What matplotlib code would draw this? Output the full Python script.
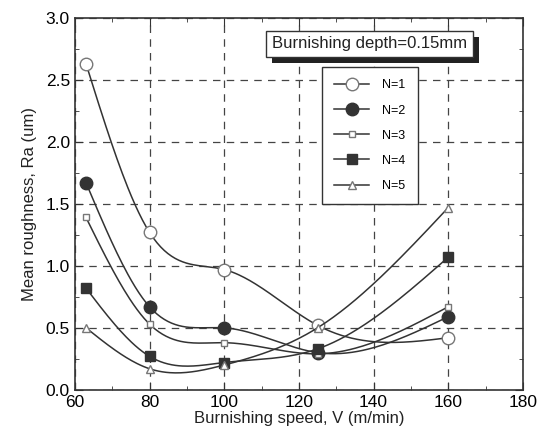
import numpy as np
import matplotlib.pyplot as plt
from matplotlib.patches import Rectangle
from matplotlib.transforms import IdentityTransform

# burnishing speed (m/min)
speed = [63, 80, 100, 125, 160]

# mean roughness Ra (um) for each number of passes
ra_n1 = [2.63, 1.27, 0.97, 0.52, 0.42]
ra_n2 = [1.67, 0.67, 0.50, 0.30, 0.59]
ra_n3 = [1.39, 0.53, 0.38, 0.29, 0.67]
ra_n4 = [0.82, 0.27, 0.22, 0.33, 1.07]
ra_n5 = [0.50, 0.17, 0.20, 0.50, 1.47]

labels = ['N=1', 'N=2', 'N=3', 'N=4', 'N=5']


def smooth(x, y, n=200):
    # natural cubic spline through the points, for the drawn curve only
    x = np.asarray(x, float)
    y = np.asarray(y, float)
    k = len(x)
    h = np.diff(x)
    A = np.zeros((k, k))
    b = np.zeros(k)
    A[0, 0] = A[-1, -1] = 1
    for i in range(1, k - 1):
        A[i, i - 1] = h[i - 1]
        A[i, i] = 2 * (h[i - 1] + h[i])
        A[i, i + 1] = h[i]
        b[i] = 6 * ((y[i + 1] - y[i]) / h[i] - (y[i] - y[i - 1]) / h[i - 1])
    m = np.linalg.solve(A, b)
    xs = np.linspace(x[0], x[-1], n)
    idx = np.clip(np.searchsorted(x, xs) - 1, 0, k - 2)
    x0, x1 = x[idx], x[idx + 1]
    hh = x1 - x0
    t0, t1 = x1 - xs, xs - x0
    ys = (m[idx] * t0 ** 3 + m[idx + 1] * t1 ** 3) / (6 * hh) \
        + (y[idx] / hh - m[idx] * hh / 6) * t0 \
        + (y[idx + 1] / hh - m[idx + 1] * hh / 6) * t1
    return xs, ys


plt.rcParams['font.family'] = ['Liberation Sans', 'DejaVu Sans']

fig = plt.figure(figsize=(5.42, 4.46), dpi=100)
ax = fig.add_axes([0.138, 0.126, 0.827, 0.834])

col = '#333333'
styles = [
    dict(marker='o', ms=9, mfc='white', mec='#777777'),
    dict(marker='o', ms=9, mfc=col, mec=col),
    dict(marker='s', ms=5, mfc='white', mec='#777777'),
    dict(marker='s', ms=7, mfc=col, mec=col),
    dict(marker='^', ms=6, mfc='white', mec='#777777'),
]

for y, lab, st in zip([ra_n1, ra_n2, ra_n3, ra_n4, ra_n5], labels, styles):
    xs, ys = smooth(speed, y)
    ax.plot(xs, ys, color=col, lw=1.1)
    ax.plot(speed, y, ls='none', **st)
    ax.plot([], [], color=col, lw=1.1, label=lab, **st)

ax.set_xlim(60, 180)
ax.set_ylim(0, 3.0)
ax.set_xticks(range(60, 181, 20))
ax.set_xticks(range(60, 181, 10), minor=True)
ax.set_yticks(np.arange(0, 3.01, 0.5))
ax.set_yticks(np.arange(0, 3.01, 0.25), minor=True)
ax.yaxis.set_major_formatter(plt.FormatStrFormatter('%.1f'))
ax.grid(True, which='major', ls=(0, (6, 5)), color='#444444', lw=0.9)
ax.tick_params(which='both', direction='in', top=True, right=True,
               labelsize=12.5, color=col)
ax.tick_params(which='major', length=6)
ax.tick_params(which='minor', length=3)
for s in ax.spines.values():
    s.set_color(col)
    s.set_linewidth(1.2)

ax.set_xlabel('Burnishing speed, V (m/min)', fontsize=12, labelpad=1, color='#222222')
ax.set_ylabel('Mean roughness, Ra (um)', fontsize=12, labelpad=6, color='#222222')

# title box with drop shadow
t = ax.text(0.658, 0.93, 'Burnishing depth=0.15mm', transform=ax.transAxes,
            ha='center', va='center', fontsize=12, color='#222222', zorder=6,
            bbox=dict(boxstyle='square,pad=0.35', fc='white', ec=col, lw=1))

leg = ax.legend(loc='upper left', bbox_to_anchor=(0.551, 0.868), fontsize=9,
                frameon=True, fancybox=False, edgecolor=col, framealpha=1,
                handlelength=2.8, labelspacing=1.05, borderpad=1.0,
                handletextpad=1.0, borderaxespad=0)
leg.get_frame().set_linewidth(1)
leg.set_zorder(6)

fig.canvas.draw()
bb = t.get_bbox_patch().get_window_extent()
shadow = Rectangle((bb.x0 + 6, bb.y0 - 6), bb.width, bb.height,
                   transform=IdentityTransform(), fc='#222222', ec='none', zorder=5)
ax.add_artist(shadow)

plt.savefig('out.png', dpi=100)
